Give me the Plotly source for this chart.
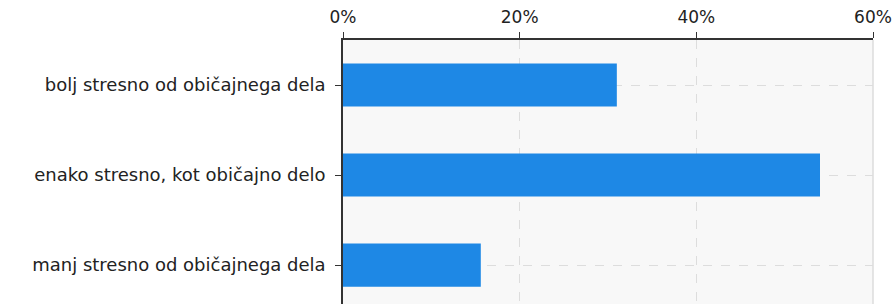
import plotly.graph_objects as go

categories = ["bolj stresno od običajnega dela",
              "enako stresno, kot običajno delo",
              "manj stresno od običajnega dela"]
values = [31.0, 54.0, 15.6]
tick_vals = [0, 20, 40, 60]
tick_text = ["0%", "20%", "40%", "60%"]

fig = go.Figure()
fig.add_trace(go.Bar(
    y=categories, x=values, orientation="h",
    marker=dict(color="#1e88e5", line=dict(width=0)),
    width=0.48,
))

fig.update_layout(
    width=893, height=304,
    margin=dict(l=343, r=20, t=40, b=0),
    paper_bgcolor="white",
    plot_bgcolor="#f8f8f8",
    font=dict(family="DejaVu Sans", size=17, color="#222222"),
    showlegend=False,
    bargap=0.52,
)
fig.update_xaxes(
    side="top", range=[0, 60], tickvals=tick_vals, ticktext=tick_text,
    showline=True, linecolor="#333333", linewidth=1.5,
    ticks="outside", ticklen=6, tickcolor="#333333",
    showgrid=True, gridcolor="#dddddd", griddash="dash", zeroline=False,
    ticklabelstandoff=2, tickfont=dict(size=17),
)
fig.update_yaxes(
    range=[2.433, -0.5], type="category",
    showline=True, linecolor="#333333", linewidth=1.5,
    ticks="outside", ticklen=6, tickcolor="#333333",
    showgrid=True, gridcolor="#dddddd", griddash="dash",
    ticklabelstandoff=6, tickfont=dict(size=18),
)
fig.add_shape(type="line", xref="paper", yref="paper", x0=1, x1=1, y0=0, y1=1,
              line=dict(color="#dddddd", width=1.5))
fig.write_html("out.html", config={"displayModeBar": False},
               post_script="document.body.style.margin='0';document.body.style.padding='0';")
